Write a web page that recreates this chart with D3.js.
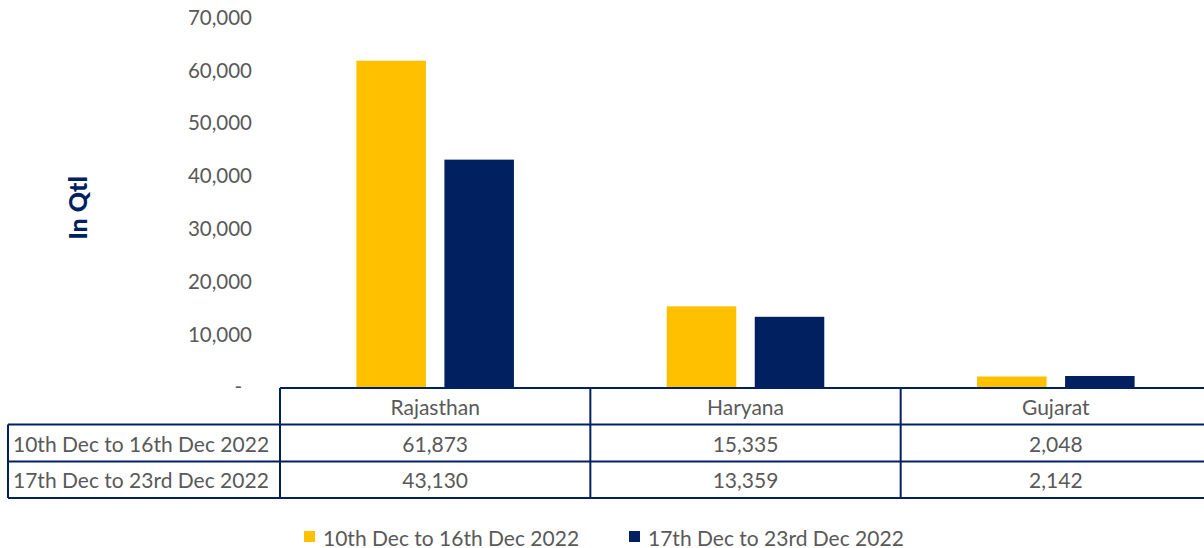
<!DOCTYPE html>
<html><head><meta charset="utf-8">
<script src="https://cdn.jsdelivr.net/npm/d3@7"></script>
<style>body{margin:0;background:#fff}svg{display:block}text{font-family:Lato,"Open Sans",sans-serif}</style>
</head><body><svg id="c" width="1204" height="548"></svg>
<script>
const categories = ["Rajasthan", "Haryana", "Gujarat"];
const seriesNames = ["10th Dec to 16th Dec 2022", "17th Dec to 23rd Dec 2022"];
const series1 = [61873, 15335, 2048];
const series2 = [43130, 13359, 2142];
const yTicks = [0, 10000, 20000, 30000, 40000, 50000, 60000, 70000];
const colors = ["#FFC000", "#002060"];

const svg = d3.select("#c");
const W = 1204;
const x = d3.scaleBand().domain(categories).range([280, 1211]).padding(0);
const xs = d3.scaleBand().domain([0, 1]).range([0, x.bandwidth()]).paddingInner(0.21).paddingOuter(0.868);
const y = d3.scaleLinear().domain([0, 70000]).range([387.3, 17.8]);
const fmt = d3.format(",");
const txt = "#595959", navy = "#002060";

// y axis labels
const yAxis = d3.axisLeft(y).tickValues(yTicks).tickSize(0).tickPadding(0)
  .tickFormat(d => d === 0 ? "-" : fmt(d));
const ga = svg.append("g").attr("transform", "translate(252,0)").call(yAxis);
ga.select(".domain").remove();
ga.selectAll("text").attr("fill", txt).style("font-size", "20.5px").style("font-family", "Lato")
  .attr("dx", d => d === 0 ? -10 : 0);

// y title
svg.append("text").attr("transform", "translate(77,208) rotate(-90)")
  .attr("text-anchor", "middle").attr("dominant-baseline", "central")
  .attr("fill", navy).style("font-weight", "900").style("font-size", "25px").text("In Qtl");

// bars
const data = [series1, series2];
data.forEach((vals, si) => {
  svg.append("g").selectAll("rect").data(categories).join("rect")
    .attr("x", (c) => x(c) + xs(si))
    .attr("width", xs.bandwidth())
    .attr("y", (c, i) => y(vals[i]))
    .attr("height", (c, i) => y(0) - y(vals[i]))
    .attr("fill", colors[si]);
});

// table
const rowY = [388, 424.5, 461.5, 498];
const tg = svg.append("g");
const line = (x1, y1, x2, y2) => tg.append("line").attr("x1", x1).attr("y1", y1).attr("x2", x2).attr("y2", y2)
  .attr("stroke", navy).attr("stroke-width", 2);
line(280, rowY[0], W, rowY[0]);
line(8, rowY[1], W, rowY[1]);
line(8, rowY[2], W, rowY[2]);
line(8, rowY[3], W, rowY[3]);
line(8, rowY[1], 8, rowY[3]);
line(280, rowY[0], 280, rowY[3]);
categories.forEach(c => { const xe = x(c) + x.bandwidth(); if (xe < W) line(xe, rowY[0], xe, rowY[3]); });

const cellText = (t, cx, cy, anchor) => tg.append("text").attr("x", cx).attr("y", cy)
  .attr("text-anchor", anchor).attr("dominant-baseline", "central")
  .attr("fill", txt).style("font-size", "21px").text(t);
categories.forEach(c => cellText(c, x(c) + x.bandwidth() / 2, (rowY[0] + rowY[1]) / 2, "middle"));
data.forEach((vals, si) => {
  const cy = (rowY[si + 1] + rowY[si + 2]) / 2;
  cellText(seriesNames[si], 13, cy, "start");
  categories.forEach((c, i) => cellText(fmt(vals[i]), x(c) + x.bandwidth() / 2, cy, "middle"));
});

// legend
const legX = [304, 629];
seriesNames.forEach((n, si) => {
  svg.append("rect").attr("x", legX[si]).attr("y", 531).attr("width", 11).attr("height", 11).attr("fill", colors[si]);
  svg.append("text").attr("x", legX[si] + 19).attr("y", 537).attr("dominant-baseline", "central")
    .attr("fill", txt).style("font-size", "21px").text(n);
});
</script></body></html>
